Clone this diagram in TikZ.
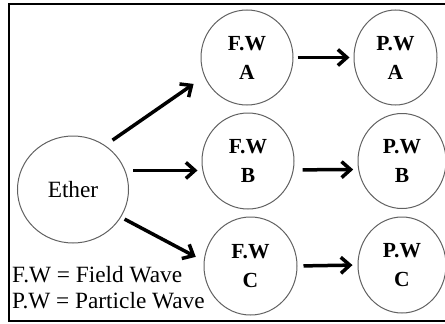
\documentclass[tikz,border=0pt]{standalone}
\usepackage{fontspec}
\setmainfont{Liberation Serif}
\usetikzlibrary{arrows.meta,shapes.geometric}
\begin{document}
\begin{tikzpicture}[x=1pt,y=-1pt,
  bub/.style={ellipse,draw=black!62,line width=1pt,inner sep=0pt,
    font=\fontsize{21.5}{29}\selectfont\bfseries,align=center},
  arr/.style={line width=3.5pt,-{Straight Barb[length=9pt,width=16pt]}},
  leg/.style={anchor=base west,inner sep=0pt,font=\fontsize{23.3}{26}\selectfont}]
\useasboundingbox (0,0) rectangle (445,324);
\draw[line width=1.5pt] (9,4) rectangle (447,321);
\node[bub,minimum width=111pt,minimum height=107pt,font=\fontsize{23.3}{26}\selectfont] (ether) at (73,189.5) {Ether};
\node[bub,minimum width=92pt,minimum height=95pt] (fwa) at (247,57.5) {F.W\\A};
\node[bub,minimum width=92pt,minimum height=96pt] (fwb) at (248,161) {F.W\\B};
\node[bub,minimum width=93pt,minimum height=98pt] (fwc) at (250.5,266) {F.W\\C};
\node[bub,minimum width=83pt,minimum height=95pt] (pwa) at (395.5,57.5) {P.W\\A};
\node[bub,minimum width=88pt,minimum height=95pt] (pwb) at (402,161) {P.W\\B};
\node[bub,minimum width=88pt,minimum height=96pt] (pwc) at (402,265) {P.W\\C};
\draw[arr,shorten <=9pt,shorten >=13pt] (ether.54) -- (fwa.204);
\draw[arr,shorten <=8pt,shorten >=4pt] (ether.20) -- (fwb.west |- ether.20);
\draw[arr,shorten <=4pt,shorten >=9pt] (ether.-30) -- (fwc.174);
\draw[arr,shorten <=4pt,shorten >=4pt] (fwa.east) -- (pwa.west);
\draw[arr,shorten <=9pt,shorten >=5pt] (fwb.-11) -- (pwb.191);
\draw[arr,shorten <=6pt,shorten >=5pt] (fwc.east) -- (pwc.west);
\node[leg] (l1) at (12,282) {F.W = Field Wave};
\node[leg] (l2) at (12,308) {P.W = Particle Wave};
\end{tikzpicture}
\end{document}
